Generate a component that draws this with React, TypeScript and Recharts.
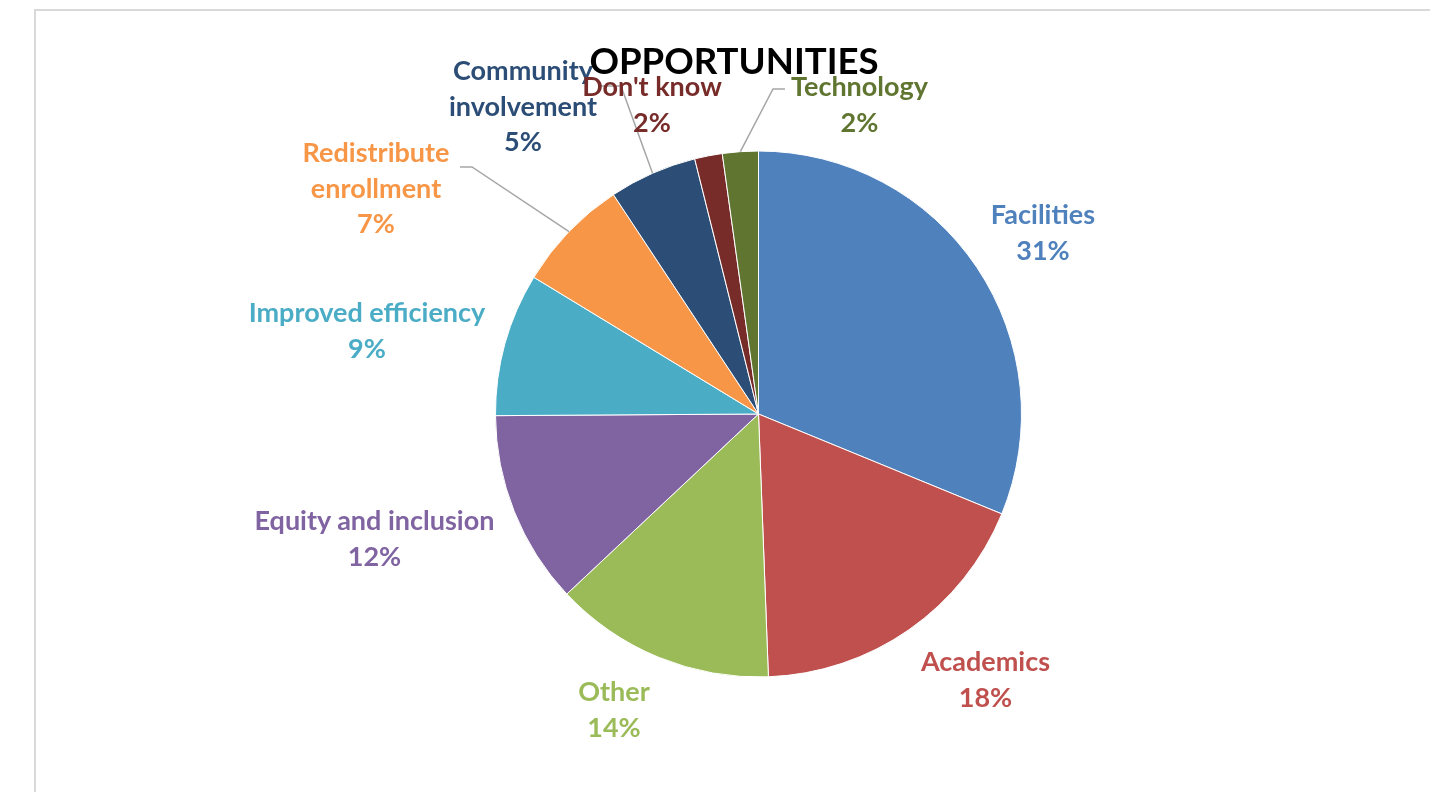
import React from 'react';
import { PieChart, Pie, Cell } from 'recharts';

const title = 'OPPORTUNITIES';
const categories = [
  'Facilities',
  'Academics',
  'Other',
  'Equity and inclusion',
  'Improved efficiency',
  'Redistribute enrollment',
  'Community involvement',
  "Don't know",
  'Technology',
];
const values = [31.2, 18.2, 13.6, 11.9, 8.8, 7.0, 5.4, 1.7, 2.2];
const colors = ['#4F81BD', '#C0504D', '#9BBB59', '#8064A2', '#4BACC6', '#F79646', '#2C4D75', '#772C2A', '#5F7530'];

// label text split into lines (presentation)
const labelLines: string[][] = [
  ['Facilities'],
  ['Academics'],
  ['Other'],
  ['Equity and inclusion'],
  ['Improved efficiency'],
  ['Redistribute', 'enrollment'],
  ['Community', 'involvement'],
  ["Don't know"],
  ['Technology'],
];

// label layout relative to pie centre: x centre, first baseline; optional leader (start, elbow)
const labelLayout: { dx: number; dy: number; leader?: [number, number, number, number] }[] = [
  { dx: 284.5, dy: -190 },
  { dx: 227, dy: 257 },
  { dx: -144.5, dy: 287 },
  { dx: -384, dy: 116 },
  { dx: -391.5, dy: -92 },
  { dx: -382.5, dy: -252, leader: [-298.5, -247, -286.5, -247] },
  { dx: -235.5, dy: -334, leader: [-158.5, -328, -137.5, -328] },
  { dx: -106.5, dy: -318 },
  { dx: 101, dy: -318, leader: [26.5, -325, 14.5, -325] },
];

const data = categories.map((name, i) => ({ name, value: values[i] }));
const total = values.reduce((a, b) => a + b, 0);

const FONT = 'Lato, "Open Sans", sans-serif';
const RAD = Math.PI / 180;

const renderLabel = (props: any) => {
  const { cx, cy, midAngle, outerRadius, index, value } = props;
  const lay = labelLayout[index];
  const lines = [...labelLines[index], `${Math.round((value / total) * 100)}%`];
  const x = cx + lay.dx;
  const y0 = cy + lay.dy;
  let leader = null;
  if (lay.leader) {
    const [sx, sy, ex, ey] = lay.leader;
    const px = cx + outerRadius * Math.cos(-midAngle * RAD);
    const py = cy + outerRadius * Math.sin(-midAngle * RAD);
    leader = (
      <polyline
        points={`${cx + sx},${cy + sy} ${cx + ex},${cy + ey} ${px},${py}`}
        fill="none"
        stroke="#A6A6A6"
        strokeWidth={1.5}
      />
    );
  }
  return (
    <g key={`lbl-${index}`}>
      {leader}
      <text
        x={x}
        y={y0}
        textAnchor="middle"
        fill={colors[index]}
        fontFamily={FONT}
        fontWeight={700}
        fontSize={27}
      >
        {lines.map((l, k) => (
          <tspan key={k} x={x} dy={k === 0 ? 0 : 35.5}>
            {l}
          </tspan>
        ))}
      </text>
    </g>
  );
};

export default function App() {
  return (
    <div style={{ position: 'relative', width: 1414, height: 776, background: '#fff' }}>
      <div
        style={{
          position: 'fixed',
          left: 34,
          top: 9,
          width: 1600,
          height: 1000,
          borderTop: '2px solid #D9D9D9',
          borderLeft: '2px solid #D9D9D9',
          boxSizing: 'border-box',
        }}
      />
      <div style={{ position: 'absolute', left: 0, top: 0 }}>
        <PieChart width={1414} height={776} margin={{ top: 0, right: 0, bottom: 0, left: 0 }}>
          <Pie
            data={data}
            dataKey="value"
            nameKey="name"
            cx={750.5}
            cy={406}
            outerRadius={263}
            startAngle={90}
            endAngle={-270}
            stroke="#FFFFFF"
            strokeWidth={1}
            label={renderLabel}
            labelLine={false}
            isAnimationActive={false}
          >
            {data.map((d, i) => (
              <Cell key={d.name} fill={colors[i]} />
            ))}
          </Pie>
        </PieChart>
      </div>
      <svg
        width={1414}
        height={776}
        style={{ position: 'absolute', left: 0, top: 0, pointerEvents: 'none' }}
      >
        <text x={726} y={66} textAnchor="middle" fontFamily={FONT} fontWeight={700} fontSize={36.6} fill="#000">
          {title}
        </text>
      </svg>
    </div>
  );
}
